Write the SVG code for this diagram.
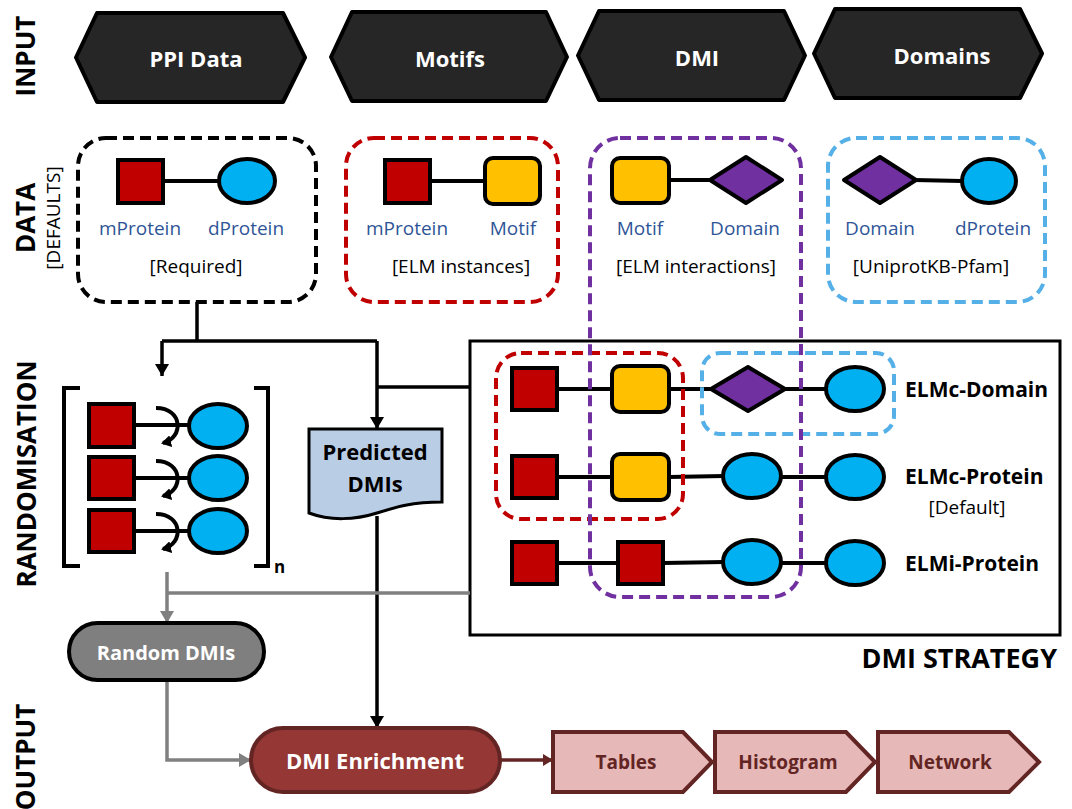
<svg xmlns="http://www.w3.org/2000/svg" width="1072" height="809" viewBox="0 0 1072 809">
<style>
text{font-family:"Open Sans","Liberation Sans",sans-serif}
.sec{font-size:26px;font-weight:700;fill:#000}
.sub{font-size:19px;fill:#000}
.hex{fill:#262626;stroke:#000;stroke-width:4;stroke-linejoin:round}
.hext{font-size:22px;font-weight:700;fill:#fff;text-anchor:middle;dominant-baseline:central}
.lbl{font-size:19px;fill:#2F5597;text-anchor:middle;dominant-baseline:central}
.src{font-size:19px;fill:#000;text-anchor:middle;dominant-baseline:central}
.sq{fill:#C00000;stroke:#000;stroke-width:4}
.mo{fill:#FFC000;stroke:#000;stroke-width:4}
.dm{fill:#7030A0;stroke:#000;stroke-width:4;stroke-linejoin:round}
.pr{fill:#00B0F0;stroke:#000;stroke-width:4}
.ln{stroke:#000;stroke-width:4;fill:none}
.dash{fill:none;stroke-width:4;stroke-dasharray:11 6}
.strat{font-size:21px;font-weight:700;fill:#000;dominant-baseline:central}
.blk{stroke:#000;stroke-width:3.5;fill:none}
.gry{stroke:#808080;stroke-width:3.5;fill:none}
.mar{stroke:#632523;stroke-width:3.5;fill:none}
.chev{fill:#E6B9B8;stroke:#632523;stroke-width:4;stroke-linejoin:miter}
.chevt{font-size:19px;font-weight:700;fill:#632523;text-anchor:middle;dominant-baseline:central}
</style>
<defs>
<marker id="ab" markerUnits="userSpaceOnUse" markerWidth="14" markerHeight="14" refX="12" refY="7" orient="auto"><path d="M0,0 L12,7 L0,14 z" fill="#000"/></marker>
<marker id="ag" markerUnits="userSpaceOnUse" markerWidth="14" markerHeight="14" refX="12" refY="7" orient="auto"><path d="M0,0 L12,7 L0,14 z" fill="#808080"/></marker>
<marker id="am" markerUnits="userSpaceOnUse" markerWidth="12" markerHeight="12" refX="10" refY="6" orient="auto"><path d="M0,0 L10,6 L0,12 z" fill="#632523"/></marker>
<marker id="ac" markerUnits="userSpaceOnUse" markerWidth="12" markerHeight="12" refX="8" refY="6" orient="auto"><path d="M0,0 L10,6 L0,12 z" fill="#000"/></marker>
</defs>

<!-- section labels -->
<g id="section-labels">
<text class="sec" text-anchor="middle" transform="translate(35,56) rotate(-90)">INPUT</text>
<text class="sec" text-anchor="middle" transform="translate(35,218) rotate(-90)">DATA</text>
<text class="sub" text-anchor="middle" transform="translate(60,218) rotate(-90)">[DEFAULTS]</text>
<text class="sec" text-anchor="middle" transform="translate(36,474) rotate(-90)">RANDOMISATION</text>
<text class="sec" text-anchor="middle" transform="translate(35,757) rotate(-90)">OUTPUT</text>
</g>

<!-- input hexagons -->
<g id="input-ppi"><path class="hex" d="M76,57.5 L97,13 L283,13 L305,57.5 L283,102 L97,102 Z"/><text class="hext" x="196" y="58">PPI Data</text></g>
<g id="input-motifs"><path class="hex" d="M331,57 L352,12 L546,12 L567,57 L546,101 L352,101 Z"/><text class="hext" x="450" y="58">Motifs</text></g>
<g id="input-dmi"><path class="hex" d="M578,55.5 L599,11 L784,11 L805,55.5 L784,100 L599,100 Z"/><text class="hext" x="697" y="57">DMI</text></g>
<g id="input-domains"><path class="hex" d="M814,53.5 L835,9 L1020,9 L1042,53.5 L1020,98 L835,98 Z"/><text class="hext" x="942" y="55">Domains</text></g>

<!-- strategy box -->
<g id="dmi-strategy">
<rect x="470" y="341" width="590" height="294" fill="none" stroke="#000" stroke-width="3"/>
<text x="1057" y="657" font-size="27" font-weight="700" text-anchor="end" dominant-baseline="central">DMI STRATEGY</text>
</g>

<!-- data boxes -->
<g id="data-ppi">
<rect class="dash" x="78" y="138" width="238" height="164" rx="28" stroke="#000"/>
<line class="ln" x1="163" y1="181" x2="219" y2="181"/>
<rect class="sq" x="118" y="160" width="45" height="43"/>
<ellipse class="pr" cx="247" cy="181" rx="28" ry="22"/>
<text class="lbl" x="140" y="228">mProtein</text>
<text class="lbl" x="246" y="228">dProtein</text>
<text class="src" x="196" y="266">[Required]</text>
</g>
<g id="data-motifs">
<rect class="dash" x="346" y="138" width="212" height="164" rx="28" stroke="#C00000"/>
<line class="ln" x1="430" y1="181" x2="485" y2="181"/>
<rect class="sq" x="385" y="160" width="45" height="43"/>
<rect class="mo" x="485" y="158" width="55" height="46" rx="8"/>
<text class="lbl" x="407" y="228">mProtein</text>
<text class="lbl" x="513" y="228">Motif</text>
<text class="src" x="461" y="266">[ELM instances]</text>
</g>
<g id="data-dmi">
<line class="ln" x1="669" y1="180" x2="712" y2="180"/>
<rect class="mo" x="612" y="158" width="57" height="45" rx="8"/>
<path class="dm" d="M710,180 L746,157 L782,180 L746,203 Z"/>
<text class="lbl" x="640" y="228">Motif</text>
<text class="lbl" x="745" y="228">Domain</text>
<text class="src" x="696" y="266">[ELM interactions]</text>
</g>
<g id="data-domains">
<rect class="dash" x="828" y="138" width="217" height="164" rx="28" stroke="#56B0E8"/>
<line class="ln" x1="914" y1="180" x2="962" y2="181"/>
<path class="dm" d="M844,180 L880,157 L916,180 L880,203 Z"/>
<ellipse class="pr" cx="989" cy="181" rx="27" ry="22"/>
<text class="lbl" x="880" y="228">Domain</text>
<text class="lbl" x="993" y="228">dProtein</text>
<text class="src" x="931" y="266">[UniprotKB-Pfam]</text>
</g>

<!-- connectors -->
<g id="connectors">
<path class="blk" d="M197,302 V341"/>
<path class="blk" d="M162,341 H377"/>
<path class="blk" d="M162,341 V376" marker-end="url(#ab)"/>
<path class="blk" d="M377,341 V429" marker-end="url(#ab)"/>
<path class="blk" d="M470,387 H377"/>
<path class="blk" d="M377,516 V728" marker-end="url(#ab)"/>
<path class="gry" d="M470,593 H167"/>
<path class="gry" d="M167,572 V623" marker-end="url(#ag)"/>
<path class="gry" d="M167,680 V760 H251" marker-end="url(#ag)"/>
<path class="mar" d="M500,760 H553" marker-end="url(#am)"/>
</g>

<!-- randomisation -->
<g id="randomisation">
<path class="ln" d="M80,388 H64 V566 H80"/>
<path class="ln" d="M254,388 H268 V566 H254"/>
<text x="274" y="573" font-size="17" font-weight="700">n</text>
<line class="ln" x1="134" y1="425" x2="190" y2="425"/>
<line class="ln" x1="134" y1="478" x2="190" y2="478"/>
<line class="ln" x1="134" y1="531" x2="190" y2="531"/>
<rect class="sq" x="89" y="404" width="45" height="43"/>
<rect class="sq" x="89" y="457" width="45" height="42"/>
<rect class="sq" x="89" y="510" width="45" height="42"/>
<ellipse class="pr" cx="218" cy="426" rx="29" ry="22"/>
<ellipse class="pr" cx="218" cy="478" rx="29" ry="22"/>
<ellipse class="pr" cx="218" cy="531" rx="29" ry="22"/>
<path class="ln" d="M156,408 C183,408 184,438 163,443" marker-end="url(#ac)"/>
<path class="ln" d="M156,461 C183,461 184,491 163,496" marker-end="url(#ac)"/>
<path class="ln" d="M156,514 C183,514 184,544 163,549" marker-end="url(#ac)"/>
</g>

<!-- predicted DMIs -->
<g id="predicted-dmis">
<path d="M309,429 H442 V502 C412,502 396,507 377,513 C355,520 330,521 309,513 Z" fill="#B9CDE5" stroke="#000" stroke-width="3"/>
<text x="375" y="451" font-size="22" font-weight="700" text-anchor="middle" dominant-baseline="central">Predicted</text>
<text x="375" y="483" font-size="22" font-weight="700" text-anchor="middle" dominant-baseline="central">DMIs</text>
</g>

<!-- strategy rows -->
<g id="strategy-elmc-domain">
<line class="ln" x1="557" y1="389" x2="612" y2="389"/>
<line class="ln" x1="669" y1="389" x2="712" y2="389"/>
<line class="ln" x1="784" y1="389" x2="826" y2="389"/>
<rect class="sq" x="512" y="368" width="45" height="42"/>
<rect class="mo" x="612" y="366" width="57" height="46" rx="8"/>
<path class="dm" d="M711,389 L748,367 L785,389 L748,411 Z"/>
<ellipse class="pr" cx="855" cy="389" rx="29" ry="22"/>
<text class="strat" x="905" y="389">ELMc-Domain</text>
</g>
<g id="strategy-elmc-protein">
<line class="ln" x1="557" y1="477" x2="612" y2="477"/>
<line class="ln" x1="669" y1="477" x2="724" y2="476"/>
<line class="ln" x1="780" y1="477" x2="826" y2="477"/>
<rect class="sq" x="512" y="456" width="45" height="42"/>
<rect class="mo" x="612" y="454" width="57" height="46" rx="8"/>
<ellipse class="pr" cx="752" cy="476" rx="29" ry="22"/>
<ellipse class="pr" cx="855" cy="477" rx="29" ry="22"/>
<text class="strat" x="905" y="476">ELMc-Protein</text>
<text class="src" x="967" y="507">[Default]</text>
</g>
<g id="strategy-elmi-protein">
<line class="ln" x1="557" y1="563" x2="618" y2="563"/>
<line class="ln" x1="663" y1="563" x2="724" y2="562"/>
<line class="ln" x1="780" y1="563" x2="826" y2="563"/>
<rect class="sq" x="512" y="542" width="45" height="42"/>
<rect class="sq" x="618" y="542" width="45" height="42"/>
<ellipse class="pr" cx="752" cy="562" rx="29" ry="22"/>
<ellipse class="pr" cx="855" cy="563" rx="29" ry="22"/>
<text class="strat" x="905" y="563">ELMi-Protein</text>
</g>

<!-- overlay dashed groupings -->
<g id="group-motifs-strategy"><rect class="dash" x="496" y="353" width="187" height="166" rx="25" stroke="#C00000" stroke-width="3.5"/></g>
<g id="group-domains-strategy"><rect class="dash" x="702" y="353" width="192" height="81" rx="18" stroke="#56B0E8" stroke-width="3.5"/></g>
<g id="group-dmi"><rect class="dash" x="590" y="138" width="211" height="459" rx="30" stroke="#7030A0" stroke-width="3.5"/></g>

<!-- outputs -->
<g id="random-dmis"><rect x="69" y="623" width="195" height="57" rx="28.5" fill="#7F7F7F" stroke="#000" stroke-width="4"/><text x="166" y="652" font-size="20" font-weight="700" fill="#fff" text-anchor="middle" dominant-baseline="central">Random DMIs</text></g>
<g id="dmi-enrichment"><rect x="251" y="728" width="249" height="64" rx="32" fill="#953735" stroke="#632523" stroke-width="4"/><text x="375" y="760" font-size="22" font-weight="700" fill="#fff" text-anchor="middle" dominant-baseline="central">DMI Enrichment</text></g>
<g id="out-tables"><path class="chev" d="M553,732 H683 L712,762 L683,792 H553 Z"/><text class="chevt" x="626" y="762">Tables</text></g>
<g id="out-histogram"><path class="chev" d="M715,732 H846 L875,762 L846,792 H715 Z"/><text class="chevt" x="788" y="762">Histogram</text></g>
<g id="out-network"><path class="chev" d="M878,732 H1009 L1039,762 L1009,792 H878 Z"/><text class="chevt" x="950" y="762">Network</text></g>
</svg>
